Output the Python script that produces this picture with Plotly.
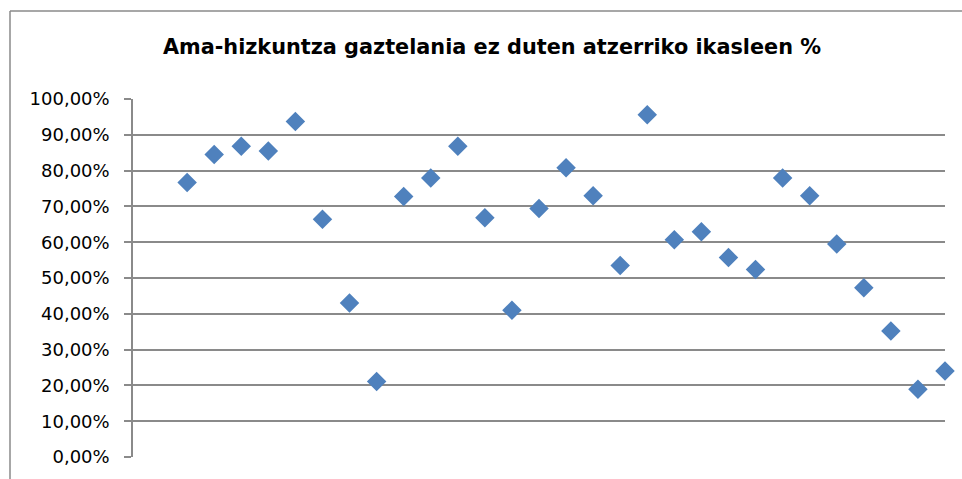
import plotly.graph_objects as go

# Share of foreign students whose mother tongue is not Spanish, per school/group
x_pos = list(range(2, 31))
pct = [76.7, 84.5, 86.8, 85.5, 93.7, 66.4, 43.0, 21.1, 72.8, 77.9,
       86.8, 66.8, 41.0, 69.4, 80.8, 73.0, 53.5, 95.6, 60.7, 62.9,
       55.7, 52.4, 77.9, 73.0, 59.5, 47.3, 35.2, 18.9, 24.0]
y_ticks = [0, 10, 20, 30, 40, 50, 60, 70, 80, 90, 100]
y_tick_labels = ["0,00%", "10,00%", "20,00%", "30,00%", "40,00%", "50,00%",
                 "60,00%", "70,00%", "80,00%", "90,00%", "100,00%"]

title_text = "Ama-hizkuntza gaztelania ez duten atzerriko ikasleen %"

GRID = "#8a8a8a"
BLUE = "#4f81bd"
FONT = "DejaVu Sans, sans-serif"

fig = go.Figure(
    go.Scatter(
        x=x_pos,
        y=pct,
        mode="markers",
        marker=dict(symbol="diamond", size=15, color=BLUE, line=dict(width=0)),
        cliponaxis=False,
        showlegend=False,
        hoverinfo="x+y",
    )
)

fig.update_layout(
    width=962,
    height=479,
    margin=dict(l=133, r=17, t=99, b=22),
    paper_bgcolor="white",
    plot_bgcolor="white",
    font=dict(family=FONT, color="#000000"),
    title=dict(
        text="<b>" + title_text + "</b>",
        x=0.5114,
        xanchor="center",
        y=1 - 47 / 479,
        yanchor="middle",
        font=dict(family=FONT, size=20.8, color="#000000"),
    ),
    xaxis=dict(
        range=[0, 30],
        showgrid=False,
        zeroline=False,
        showticklabels=False,
        ticks="",
        showline=False,
        fixedrange=True,
    ),
    yaxis=dict(
        range=[0, 100],
        tickmode="array",
        tickvals=y_ticks,
        ticktext=y_tick_labels,
        showgrid=True,
        gridcolor=GRID,
        gridwidth=1.5,
        zeroline=False,
        showline=True,
        linecolor=GRID,
        linewidth=1.5,
        ticks="outside",
        ticklen=7,
        tickcolor=GRID,
        tickwidth=1.5,
        tickfont=dict(family=FONT, size=18, color="#000000"),
        ticklabelstandoff=11,
        fixedrange=True,
    ),
    shapes=[
        # chart frame (left and top edges visible)
        dict(type="line", xref="paper", yref="paper",
             x0=-123 / 812, x1=-123 / 812, y0=1 + 88 / 358, y1=-0.2,
             line=dict(color=GRID, width=1.5)),
        dict(type="line", xref="paper", yref="paper",
             x0=-123 / 812, x1=1.1, y0=1 + 88 / 358, y1=1 + 88 / 358,
             line=dict(color=GRID, width=1.5)),
    ],
)

fig.write_html("out.html")
